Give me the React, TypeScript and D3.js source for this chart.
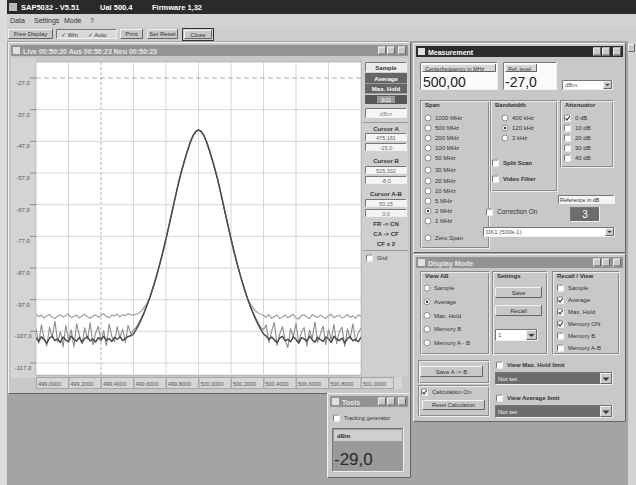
import * as d3 from "d3";
import React from "react";

// sweep: 121 points over 499..501 MHz (span 2 MHz, center 500 MHz)
const spanStart = 499;
const spanEnd = 501;
const pointCount = 121;

const yTicks = [-27, -37, -47, -57, -67, -77, -87, -97, -107, -117];
const yTickLabels = ["-27,0", "-37,0", "-47,0", "-57,0", "-67,0", "-77,0", "-87,0", "-97,0", "-107,0", "-117,0"];
const xTicks = [499, 499.2, 499.4, 499.6, 499.8, 500, 500.2, 500.4, 500.6, 500.8, 501];
const xTickLabels = ["499,0000", "499,2000", "499,4000", "499,6000", "499,8000", "500,0000", "500,2000", "500,4000", "500,6000", "500,8000", "501,0000"];

// main lobe (shared by all traces), points 43..77
const peak = [-93.8, -91, -88, -84.8, -81.4, -77.8, -74, -70.2, -66.3, -62.5, -58.8, -55.6, -52.6, -49.8, -47.2, -45.2, -43.9,
  -43.4,
  -43.9, -45.2, -47.2, -49.8, -52.6, -55.6, -58.8, -62.5, -66.3, -70.2, -74, -77.8, -81.4, -84.8, -88, -91, -93.8];

// max hold trace
const maxHoldLeft = [-101.6, -102.4, -101.9, -102.8, -102.1, -101.7, -102.6, -102.9, -102.2, -101.8,
  -102.5, -102.0, -101.5, -102.7, -102.3, -101.9, -102.8, -102.1, -101.6, -102.4,
  -102.9, -102.2, -101.8, -102.6, -102.0, -101.4, -102.3, -102.7, -101.9, -102.1,
  -101.6, -102.5, -101.8, -102.0, -101.5, -101.7, -101.9];
const maxHoldRise = [-101.6, -101.2, -100.5, -99.4, -98.2, -96.4];
const maxHoldFall = [-96.4, -98.2, -99.4, -100.5, -101.2, -101.6];
const maxHoldRight = [-102.0, -102.6, -101.7, -102.9, -102.3, -101.8, -103.0, -102.4, -101.9, -102.7,
  -102.2, -101.6, -102.8, -103.1, -102.0, -101.8, -102.5, -102.9, -101.7, -102.3,
  -102.6, -101.9, -102.4, -103.0, -102.1, -101.6, -102.7, -102.2, -101.9, -102.8,
  -102.4, -101.7, -102.6, -102.1, -102.9, -101.8, -102.3];

// average trace
const avgLeft = [-109.0, -110.2, -108.7, -109.6, -110.7, -109.1, -108.6, -109.9, -109.4, -110.5,
  -108.8, -109.7, -110.3, -108.5, -109.5, -110.1, -108.9, -110.6, -109.2, -108.7,
  -110.0, -109.4, -110.4, -109.0, -109.7, -108.6, -109.8, -109.3, -110.2, -108.9,
  -109.5, -108.7, -109.9, -109.2, -108.6, -108.4];
const avgRise = [-107.8, -106.4, -104.8, -103, -101, -98.8, -96.4];
const avgFall = [-96.4, -98.8, -101, -103, -104.8, -106.4, -107.8];
const avgRight = [-108.5, -109.6, -108.8, -109.7, -110.6, -109.1, -108.6, -110.0, -109.5, -110.3,
  -108.7, -109.6, -110.7, -109.0, -109.4, -110.1, -108.5, -109.7, -110.4, -108.9,
  -109.6, -110.2, -108.8, -109.3, -110.5, -108.6, -109.4, -109.9, -109.1, -110.7,
  -109.2, -108.7, -110.0, -109.5, -110.3, -108.8];

// sample trace
const smpLeft = [-106.2, -110.8, -104.9, -109.3, -111.6, -105.7, -108.9, -103.8, -110.4, -107.1,
  -111.9, -105.2, -109.7, -106.5, -112.0, -104.6, -108.2, -110.9, -105.9, -109.5,
  -104.3, -111.3, -107.6, -105.4, -110.1, -106.8, -111.5, -104.7, -108.6, -110.3,
  -105.6, -109.0, -106.3, -110.6, -105.1, -107.9];
const smpRise = [-106.5, -105.8, -104.2, -102.6, -100.7, -98.6, -96.5];
const smpFall = [-96.5, -98.6, -100.7, -102.6, -104.2, -105.8, -106.5];
const smpRight = [-105.0, -110.6, -106.9, -104.2, -111.4, -107.8, -105.5, -109.9, -112.1, -106.1,
  -108.7, -104.5, -110.8, -107.3, -105.8, -111.7, -106.6, -109.2, -104.1, -110.5,
  -107.9, -105.3, -111.2, -106.4, -109.6, -104.8, -110.9, -107.0, -105.7, -111.8,
  -106.2, -109.4, -104.6, -110.2, -107.5, -105.9];

const spanLabels = ["1000 MHz", "500 MHz", "200 MHz", "100 MHz", "50 MHz", "30 MHz", "20 MHz", "10 MHz", "5 MHz", "2 MHz", "1 MHz"];
const spanRows = [118, 128, 138, 148, 158, 170, 181, 191, 201, 211, 221];
const bandwidthLabels = ["400 kHz", "120 kHz", "3 kHz"];
const attenuatorLabels = ["0 dB", "10 dB", "20 dB", "30 dB", "40 dB"];
const viewLabels = ["Sample", "Average", "Max. Hold", "Memory B", "Memory A - B"];
const recallLabels = ["Sample", "Average", "Max. Hold", "Memory ON", "Memory B", "Memory A-B"];
const recallChecked = [false, true, true, true, false, false];

const FONT = "'Liberation Sans', Arial, sans-serif";
const FACE = "#c8c8c8";

function Raised({ x, y, w, h, fill = FACE }: any) {
  return (
    <g>
      <rect x={x} y={y} width={w} height={h} fill={fill} />
      <path d={`M${x + 0.5},${y + h}V${y + 0.5}H${x + w}`} stroke="#f2f2f2" fill="none" />
      <path d={`M${x + 0.5},${y + h - 0.5}H${x + w - 0.5}V${y}`} stroke="#666" fill="none" />
    </g>
  );
}

function Sunken({ x, y, w, h, fill = "#fff" }: any) {
  return (
    <g>
      <rect x={x} y={y} width={w} height={h} fill={fill} />
      <path d={`M${x + 0.5},${y + h}V${y + 0.5}H${x + w}`} stroke="#777" fill="none" />
      <path d={`M${x + 0.5},${y + h - 0.5}H${x + w - 0.5}V${y}`} stroke="#f0f0f0" fill="none" />
    </g>
  );
}

function T({ x, y, s = 6.5, fill = "#333", bold = false, anchor = "start", children }: any) {
  return (
    <text x={x} y={y} fontSize={s} fill={fill} fontWeight={bold ? 700 : 400} textAnchor={anchor} fontFamily={FONT}>
      {children}
    </text>
  );
}

function Win({ x, y, w, h, title, active = false }: any) {
  const bx = x + w - 33;
  return (
    <g>
      <Raised x={x} y={y} w={w} h={h} />
      <rect x={x + 3} y={y + 3} width={w - 6} height={11} fill={active ? "#2c2c2c" : "#939393"} />
      <rect x={x + 5} y={y + 5} width={7} height={7} fill="#e0e0e0" />
      <T x={x + 15} y={y + 11.5} s={7} fill={active ? "#fff" : "#e8e8e8"} bold>{title}</T>
      {[0, 9, 20].map((dx) => <Raised key={dx} x={bx + dx} y={y + 4.5} w={8} h={8} />)}
    </g>
  );
}

function Radio({ x, y, checked = false, label }: any) {
  return (
    <g>
      <circle cx={x} cy={y} r={3} fill="#fff" stroke="#777" strokeWidth={0.8} />
      {checked && <circle cx={x} cy={y} r={1.2} fill="#333" />}
      <T x={x + 7} y={y + 2.3} s={6}>{label}</T>
    </g>
  );
}

function Check({ x, y, checked = false, label, s = 6, bold = false }: any) {
  return (
    <g>
      <Sunken x={x} y={y - 3.5} w={7} h={7} />
      {checked && <path d={`M${x + 1.5},${y}L${x + 3},${y + 2}L${x + 6},${y - 2}`} stroke="#333" fill="none" strokeWidth={1.1} />}
      <T x={x + 11} y={y + 2.3} s={s} bold={bold}>{label}</T>
    </g>
  );
}

function Group({ x, y, w, h, label }: any) {
  return (
    <g>
      <rect x={x + 0.5} y={y + 0.5} width={w} height={h} fill="none" stroke="#8a8a8a" />
      <rect x={x + 1.5} y={y + 1.5} width={w} height={h} fill="none" stroke="#ededed" />
      {label && <T x={x + 5} y={y + 7} s={6} bold>{label}</T>}
    </g>
  );
}

function Button({ x, y, w, h, label, s = 6 }: any) {
  return (
    <g>
      <Raised x={x} y={y} w={w} h={h} />
      <T x={x + w / 2} y={y + h / 2 + 2.2} s={s} anchor="middle">{label}</T>
    </g>
  );
}

function Combo({ x, y, w, h, text, dark = false }: any) {
  return (
    <g>
      <Sunken x={x} y={y} w={w} h={h} fill={dark ? "#6d6d6d" : "#fff"} />
      <T x={x + 3} y={y + h / 2 + 2.2} s={6} fill={dark ? "#f0f0f0" : "#555"}>{text}</T>
      <Raised x={x + w - h} y={y + 1} w={h - 1} h={h - 2} />
      <path d={`M${x + w - h + 2.5},${y + h / 2 - 1}h${h - 6}l${-(h - 6) / 2},${(h - 6) / 2}z`} fill="#333" />
    </g>
  );
}

export default function App() {
  const freqs = d3.range(pointCount).map((i) => spanStart + (i * (spanEnd - spanStart)) / (pointCount - 1));
  const x = d3.scaleLinear().domain([spanStart, spanEnd]).range([36, 361]);
  const y = d3.scaleLinear().domain([-27, -117]).range([78, 363]);
  const line = d3.line<number>().x((_, i) => x(freqs[i])).y((d) => y(d));

  const maxHold = [...maxHoldLeft, ...maxHoldRise, ...peak, ...maxHoldFall, ...maxHoldRight];
  const average = [...avgLeft, ...avgRise, ...peak, ...avgFall, ...avgRight];
  const sample = [...smpLeft, ...smpRise, ...peak, ...smpFall, ...smpRight];

  const plot = { x0: 36, x1: 361, y0: 62, y1: 375 };

  return (
    <svg width={636} height={485} style={{ position: "absolute", left: 0, top: 0, display: "block" }} fontFamily={FONT}>
      <defs>
        <clipPath id="plotClip">
          <rect x={plot.x0} y={plot.y0} width={plot.x1 - plot.x0} height={plot.y1 - plot.y0} />
        </clipPath>
      </defs>
      {/* desktop */}
      <rect x={0} y={0} width={636} height={485} fill="#a4a4a4" />
      <rect x={0} y={0} width={7} height={485} fill="#dcdcdc" />
      <rect x={628} y={41} width={8} height={444} fill="#d2d2d2" />
      <Raised x={628} y={44} w={7} h={8} />

      {/* app title, menu, toolbar */}
      <rect x={7} y={0} width={629} height={14} fill="#2a2a2a" />
      <rect x={9} y={3} width={8} height={8} fill="#bbb" />
      <T x={21} y={10} s={7.5} fill="#fff" bold>SAP5032 - V5.51</T>
      <T x={100} y={10} s={7.5} fill="#fff" bold>Ual 500.4</T>
      <T x={152} y={10} s={7.5} fill="#fff" bold>Firmware 1,32</T>
      <rect x={7} y={14} width={629} height={13} fill="#d2d2d2" />
      <T x={10} y={23} s={7}>Data</T>
      <T x={34} y={23} s={7}>Settings</T>
      <T x={64} y={23} s={7}>Mode</T>
      <T x={90} y={23} s={7}>?</T>
      <rect x={7} y={27} width={629} height={14} fill="#cdcdcd" />
      <Button x={8} y={29} w={45} h={10} label="Free Display" />
      <Sunken x={56} y={29} w={61} h={10} fill="#dadada" />
      <T x={61} y={36.5} s={6}>✓ Win</T>
      <T x={88} y={36.5} s={6}>✓ Auto</T>
      <Button x={120} y={29} w={23} h={10} label="Print" />
      <Button x={147} y={29} w={31} h={10} label="Set Reset" />
      <rect x={182.5} y={28.5} width={31} height={12} fill="none" stroke="#333" />
      <Button x={184} y={30} w={28} h={9} label="Close" />

      {/* spectrum window */}
      <Win x={8} y={42} w={403} h={352} title="Live 00:50:20    Aus 00:50:23    Neu 00:50:23" />
      <rect x={11} y={58} width={25} height={320} fill="#d4d4d4" />
      <rect x={plot.x0} y={plot.y0} width={plot.x1 - plot.x0} height={plot.y1 - plot.y0} fill="#fff" stroke="#999" strokeWidth={0.5} />
      {xTicks.slice(1, -1).map((t) => (
        <line key={t} x1={x(t)} x2={x(t)} y1={plot.y0} y2={plot.y1} stroke={t === 499.4 ? "#b0b0b0" : "#d6d6d6"}
          strokeDasharray={t === 499.4 ? "3,2" : undefined} />
      ))}
      {yTicks.map((t, i) => (
        <g key={t}>
          <line x1={plot.x0} x2={plot.x1} y1={y(t)} y2={y(t)} stroke={i === 0 ? "#aaa" : "#d6d6d6"} strokeDasharray={i === 0 ? "5,3" : undefined} />
          <line x1={30} x2={36} y1={y(t)} y2={y(t)} stroke="#888" />
          <T x={23} y={y(t) + 7} s={6} fill="#555" anchor="middle">{yTickLabels[i]}</T>
        </g>
      ))}
      <g clipPath="url(#plotClip)" fill="none" strokeLinejoin="round">
        <path d={line(maxHold) ?? ""} stroke="#a6a6a6" strokeWidth={1.3} />
        <path d={line(sample) ?? ""} stroke="#8c8c8c" strokeWidth={1.1} />
        <path d={line(average) ?? ""} stroke="#4c4c4c" strokeWidth={1.5} />
      </g>
      {/* frequency labels */}
      <rect x={36} y={377} width={366} height={12} fill="#d6d6d6" />
      {xTicks.map((t, i) => (
        <g key={t}>
          <rect x={x(t) + 0.5} y={377.5} width={32} height={11} fill="none" stroke="#a8a8a8" />
          <T x={x(t) + 2} y={385.5} s={5.5} fill="#555">{xTickLabels[i]}</T>
        </g>
      ))}

      {/* side panel of the spectrum window */}
      <rect x={362} y={58} width={46} height={318} fill="#cfcfcf" />
      <Sunken x={365} y={62} w={42} h={10} fill="#ececec" />
      <T x={386} y={69.5} s={6} anchor="middle" bold>Sample</T>
      <rect x={365} y={73} width={42} height={10} fill="#666" />
      <T x={386} y={80.5} s={6} anchor="middle" fill="#fff" bold>Average</T>
      <rect x={365} y={83.5} width={42} height={10} fill="#666" />
      <T x={386} y={91} s={6} anchor="middle" fill="#fff" bold>Max. Hold</T>
      <rect x={365} y={95} width={42} height={9} fill="#575757" />
      <rect x={377} y={96} width={18} height={7} fill="#9a9a9a" />
      <T x={386} y={101.5} s={5.5} anchor="middle" fill="#fff">3/11</T>
      <Sunken x={365} y={108} w={42} h={10} fill="#f6f6f6" />
      <T x={386} y={115.5} s={6} anchor="middle" fill="#888">dBm</T>
      <line x1={363} x2={408} y1={122.5} y2={122.5} stroke="#999" />
      <T x={386} y={131} s={6} anchor="middle" bold>Cursor A</T>
      <Sunken x={365} y={133} w={42} h={8} fill="#f4f4f4" />
      <T x={386} y={139.5} s={5.5} anchor="middle" fill="#666">475,181</T>
      <Sunken x={365} y={143} w={42} h={8} fill="#f4f4f4" />
      <T x={386} y={149.5} s={5.5} anchor="middle" fill="#666">-15,0</T>
      <T x={386} y={163} s={6} anchor="middle" bold>Cursor B</T>
      <Sunken x={365} y={166} w={42} h={8} fill="#f4f4f4" />
      <T x={386} y={172.5} s={5.5} anchor="middle" fill="#666">525,332</T>
      <Sunken x={365} y={176} w={42} h={8} fill="#f4f4f4" />
      <T x={386} y={182.5} s={5.5} anchor="middle" fill="#666">-8,0</T>
      <T x={386} y={196} s={6} anchor="middle" bold>Cursor A-B</T>
      <Sunken x={365} y={199} w={42} h={8} fill="#f4f4f4" />
      <T x={386} y={205.5} s={5.5} anchor="middle" fill="#666">50,15</T>
      <Sunken x={365} y={209} w={42} h={8} fill="#f4f4f4" />
      <T x={386} y={215.5} s={5.5} anchor="middle" fill="#666">0,0</T>
      <T x={386} y={226} s={6} anchor="middle" bold>FR -&gt; CN</T>
      <T x={386} y={236} s={6} anchor="middle" bold>CA -&gt; CF</T>
      <T x={386} y={246} s={6} anchor="middle" bold>CF x 2</T>
      <line x1={363} x2={408} y1={250.5} y2={250.5} stroke="#999" />
      <Check x={366} y={258} label="Grid" s={5.5} />

      {/* measurement window */}
      <Win x={413} y={43} w={213} h={210} title="Measurement" active />
      <Sunken x={420} y={62} w={78} h={28} fill="#fbfbfb" />
      <Raised x={422} y={64} w={74} h={8} fill="#d6d6d6" />
      <T x={425} y={70.5} s={5.5}>Centerfrequency in MHz</T>
      <T x={423} y={87} s={14} fill="#222">500,00</T>
      <Sunken x={503} y={62} w={54} h={28} fill="#fbfbfb" />
      <Raised x={505} y={64} w={32} h={8} fill="#d6d6d6" />
      <T x={508} y={70.5} s={5.5}>Ref. level</T>
      <T x={505} y={87} s={14} fill="#222">-27,0</T>
      <Combo x={562} y={80} w={51} h={10} text="dBm" />

      <Group x={420} y={100} w={68} h={147} label="Span" />
      {spanLabels.map((l, i) => <Radio key={l} x={428} y={spanRows[i]} label={l} checked={l === "2 MHz"} />)}
      <Radio x={428} y={238} label="Zero Span" />
      <Group x={490} y={100} w={66} h={90} label="Bandwidth" />
      {bandwidthLabels.map((l, i) => <Radio key={l} x={505} y={118 + i * 10} label={l} checked={i === 1} />)}
      <Check x={492} y={163} label="Split Scan" bold />
      <Check x={492} y={179} label="Video Filter" bold />
      <Group x={560} y={100} w={52} h={66} label="Attenuator" />
      {attenuatorLabels.map((l, i) => <Check key={l} x={564} y={118 + i * 10} label={l} checked={i === 0} />)}
      <Sunken x={558} y={195} w={57} h={9} fill="#f4f4f4" />
      <T x={560} y={201.5} s={5.5}>Reference in dB</T>
      <Sunken x={570} y={207} w={30} h={15} fill="#6c6c6c" />
      <T x={585} y={218} s={10} fill="#fff" anchor="middle">3</T>
      <Check x={486} y={212} label="Correction On" s={6.5} />
      <Combo x={483} y={227} w={132} h={10} text="DK1 (500k-1)" />

      {/* display mode window */}
      <Win x={413} y={254} w={213} h={168} title="Display Mode" />
      <Group x={420} y={271} w={68} h={82} label="View AB" />
      {viewLabels.map((l, i) => <Radio key={l} x={427} y={288 + i * 13.7} label={l} checked={i === 1} />)}
      <Group x={492} y={271} w={54} h={82} label="Settings" />
      <Button x={495} y={287} w={47} h={11} label="Save" />
      <Button x={495} y={305} w={47} h={11} label="Recall" />
      <Combo x={495} y={329} w={43} h={12} text="1" />
      <Group x={552} y={271} w={66} h={82} label="Recall / View" />
      {recallLabels.map((l, i) => <Check key={l} x={557} y={288 + i * 12} label={l} checked={recallChecked[i]} />)}
      <Group x={418} y={360} w={70} h={22} />
      <Button x={420} y={366} w={63} h={11} label="Save A -> B" />
      <Group x={418} y={385} w={70} h={30} />
      <Check x={421} y={392} label="Calculation On" checked />
      <Button x={422} y={400} w={63} h={10} label="Reset Calculation" s={5.5} />
      <Check x={496} y={365} label="View Max. Hold limit" bold />
      <Combo x={495} y={372} w={118} h={13} text="Not set" dark />
      <Check x={496} y={398} label="View Average limit" bold />
      <Combo x={495} y={405} w={118} h={13} text="Not set" dark />

      {/* tools window */}
      <Win x={327} y={393} w={84} h={85} title="Tools" />
      <Check x={333} y={418} label="Tracking generator" s={5.5} />
      <Sunken x={332} y={428} w={72} h={44} fill="#9a9a9a" />
      <rect x={334} y={430} width={68} height={11} fill="#cfcfcf" />
      <T x={337} y={438} s={6} bold>dBm</T>
      <T x={334} y={465} s={17} fill="#2a2a2a">-29,0</T>
    </svg>
  );
}
